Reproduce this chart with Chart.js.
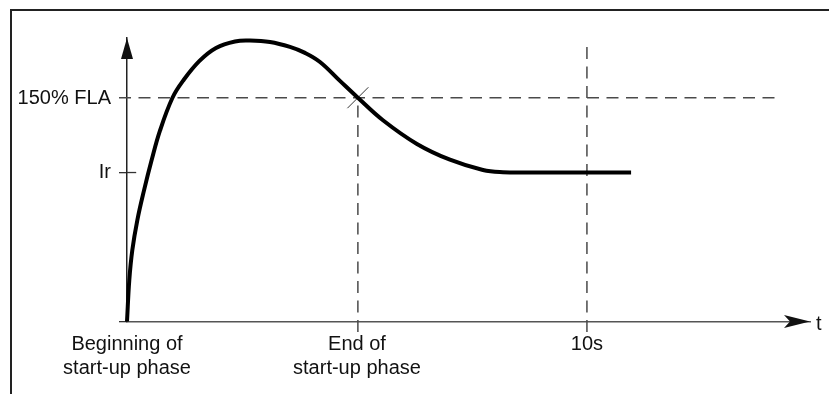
<!DOCTYPE html>
<html>
<head>
<meta charset="utf-8">
<script src="https://cdn.jsdelivr.net/npm/chart.js@4/dist/chart.umd.min.js"></script>
<style>
  body { margin: 0; background: #fff; }
  canvas { display: block; }
</style>
</head>
<body>
<canvas id="myChart" width="829" height="394"></canvas>
<script>
// current curve, time in s, current in % FLA (Ir = 100)
const curveTime = [0, 0.05, 0.115, 0.224, 0.37, 0.533, 0.717, 0.989, 1.217, 1.576, 1.935, 2.348, 2.674, 3.109, 3.543, 3.87, 4.196, 4.63, 5.02, 5.565, 6.304, 7.022, 7.739, 8.174, 8.76, 10.96]
const curveCurrent = [0, 27.8, 47.8, 67.9, 88, 108, 128.1, 150.2, 161.5, 174.9, 183.6, 188, 188.6, 187.6, 184.3, 180.3, 174.2, 161.5, 150.2, 135.1, 119.2, 108.6, 101.7, 100.2, 100, 100]

const xTickValues = [0, 5, 10]
const xTickLabels = [['Beginning of', 'start-up phase'], ['End of', 'start-up phase'], '10s']
const yTickValues = [0, 100, 150]
const yTickLabels = ['', 'Ir', '150% FLA']

const flaLevel = 150.2
const endOfStartup = 5.02
const tenSeconds = 10
const xMax = 14.85
const yMax = 190.3

const dashColor = '#4a4a4a'
const dash = [12, 7.5]

const toPoints = (xs, ys) => xs.map((x, i) => ({ x: x, y: ys[i] }))

const framePlugin = {
    id: 'frame',
    afterDraw(chart) {
        const ctx = chart.ctx
        const area = chart.chartArea
        const x0 = chart.scales.x.getPixelForValue(0)
        const y0 = chart.scales.y.getPixelForValue(0)
        ctx.save()
        // picture frame
        ctx.strokeStyle = '#222'
        ctx.lineWidth = 2
        ctx.beginPath()
        ctx.moveTo(11, 394)
        ctx.lineTo(11, 10)
        ctx.lineTo(829, 10)
        ctx.stroke()
        // y arrow
        ctx.fillStyle = '#111'
        ctx.beginPath()
        ctx.moveTo(x0, area.top)
        ctx.lineTo(x0 + 6, area.top + 21)
        ctx.lineTo(x0 - 6, area.top + 21)
        ctx.closePath()
        ctx.fill()
        // x arrow
        ctx.beginPath()
        ctx.moveTo(area.right, y0)
        ctx.lineTo(area.right - 26, y0 - 6.5)
        ctx.lineTo(area.right - 20, y0)
        ctx.lineTo(area.right - 26, y0 + 6.5)
        ctx.closePath()
        ctx.fill()
        ctx.font = '20px "Liberation Sans", Arial, sans-serif'
        ctx.textAlign = 'left'
        ctx.textBaseline = 'alphabetic'
        ctx.fillText('t', area.right + 6, y0 + 8)
        ctx.restore()
    }
}

const ctx = document.getElementById('myChart').getContext('2d')
new Chart(ctx, {
    type: 'line',
    data: {
        datasets: [
            {
                label: 'current',
                data: toPoints(curveTime, curveCurrent),
                borderColor: '#000',
                borderWidth: 4,
                pointRadius: 0,
                tension: 0.4,
                clip: false
            },
            {
                label: '150% FLA',
                data: toPoints([-0.174, 14.1], [flaLevel, flaLevel]),
                borderColor: dashColor,
                borderWidth: 1.5,
                borderDash: dash,
                pointRadius: 0,
                clip: false
            },
            {
                label: 'end of start-up',
                data: toPoints([endOfStartup, endOfStartup], [-7, flaLevel]),
                borderColor: dashColor,
                borderWidth: 1.5,
                borderDash: dash,
                pointRadius: 0,
                clip: false
            },
            {
                label: '10s',
                data: toPoints([tenSeconds, tenSeconds], [-7, 187]),
                borderColor: dashColor,
                borderWidth: 1.5,
                borderDash: dash,
                pointRadius: 0,
                clip: false
            },
            {
                label: 'Ir tick',
                data: toPoints([0, 0.2], [100, 100]),
                borderColor: '#333',
                borderWidth: 1.3,
                pointRadius: 0,
                clip: false
            },
            {
                label: 'cross',
                data: toPoints([endOfStartup], [flaLevel]),
                showLine: false,
                pointStyle: 'crossRot',
                pointRadius: 14.8,
                borderColor: '#333',
                borderWidth: 1,
                clip: false
            }
        ]
    },
    options: {
        responsive: false,
        animation: false,
        layout: { padding: { left: 0, top: 38, right: 19, bottom: 0 } },
        plugins: { legend: { display: false }, tooltip: { enabled: false } },
        scales: {
            x: {
                type: 'linear',
                min: 0,
                max: xMax,
                afterFit: s => { s.height = 72.5 },
                afterBuildTicks: s => { s.ticks = xTickValues.map(v => ({ value: v })) },
                grid: { display: false },
                border: { display: true, color: '#555', width: 1.5 },
                ticks: {
                    autoSkip: false,
                    maxRotation: 0,
                    padding: 3.5,
                    color: '#111',
                    font: { family: '"Liberation Sans", Arial, sans-serif', size: 20, lineHeight: 1.18 },
                    callback: (v, i) => xTickLabels[i]
                }
            },
            y: {
                type: 'linear',
                min: 0,
                max: yMax,
                afterFit: s => { s.width = 127 },
                afterBuildTicks: s => { s.ticks = yTickValues.map(v => ({ value: v })) },
                grid: {
                    drawOnChartArea: false,
                    drawTicks: true,
                    tickLength: 8,
                    lineWidth: 1.3,
                    color: c => (c.tick && c.tick.value === 150 ? 'rgba(0,0,0,0)' : '#333')
                },
                border: { display: true, color: '#222', width: 1.5 },
                ticks: {
                    autoSkip: false,
                    padding: 8,
                    color: '#111',
                    font: { family: '"Liberation Sans", Arial, sans-serif', size: 20 },
                    callback: (v, i) => yTickLabels[i]
                }
            }
        }
    },
    plugins: [framePlugin]
})
</script>
</body>
</html>
